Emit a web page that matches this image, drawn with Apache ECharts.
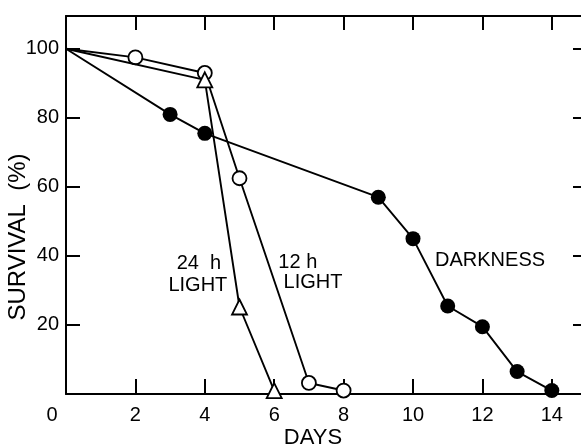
<!DOCTYPE html>
<html>
<head>
<meta charset="utf-8">
<script src="https://cdn.jsdelivr.net/npm/echarts@6/dist/echarts.min.js"></script>
<style>
html,body{margin:0;padding:0;background:#fff;}
#chart{width:581px;height:448px;}
</style>
</head>
<body>
<div id="chart"></div>
<script>
// ---- data ----
const darkDays = [0, 3, 4, 9, 10, 11, 12, 13, 14];
const darkSurv = [100, 81, 75.5, 57, 45, 25.5, 19.5, 6.5, 1];
const light12Days = [0, 2, 4, 5, 7, 8];
const light12Surv = [100, 97.5, 93, 62.5, 3.2, 1];
const light24Days = [0, 4, 5, 6];
const light24Surv = [100, 91, 25.2, 1];
const xTickValues = [0, 2, 4, 6, 8, 10, 12, 14];
const yTickValues = [20, 40, 60, 80, 100];

// the common starting point (day 0, 100 %) is drawn without a marker
const pair = (xs, ys) => xs.map((x, i) => (i === 0 ? {value: [x, ys[i]], symbol: 'none'} : [x, ys[i]]));
const FONT = 'Liberation Sans';
const BLACK = '#000';

const chart = echarts.init(document.getElementById('chart'), null, {renderer: 'canvas'});

const annot = (coord, text) => ({
  coord: coord, value: text, symbol: 'circle', symbolSize: 0,
  label: {show: true, formatter: text, color: BLACK, fontFamily: FONT, fontSize: 20,
          position: 'inside', align: 'center', verticalAlign: 'middle'}
});

const option = {
  animation: false,
  backgroundColor: '#fff',
  grid: {left: 66, right: -1, top: 16, bottom: 54, containLabel: false, outerBoundsMode: 'none'},
  xAxis: [
    {
      type: 'value', position: 'bottom', min: 0, max: 14.87, interval: 2,
      name: 'DAYS', nameLocation: 'middle', nameGap: 33, nameMoveOverlap: false,
      nameTextStyle: {color: BLACK, fontFamily: FONT, fontSize: 22, padding: [0, 22, 0, 0]},
      axisLine: {show: true, onZero: false, lineStyle: {color: BLACK, width: 2}},
      axisTick: {show: true, inside: true, length: 15, lineStyle: {color: BLACK, width: 2}},
      axisLabel: {
        color: BLACK, fontFamily: FONT, fontSize: 20, margin: 11,
        formatter: v => (xTickValues.indexOf(v) < 0 ? '' : (v === 0 ? '{z|0}' : String(v))),
        rich: {z: {color: BLACK, fontFamily: FONT, fontSize: 20, padding: [0, 28, 0, 0]}}
      },
      splitLine: {show: false}
    },
    {
      type: 'value', position: 'top', min: 0, max: 14.87, interval: 2,
      axisLine: {show: true, onZero: false, lineStyle: {color: BLACK, width: 2}},
      axisTick: {show: true, inside: true, length: 14, lineStyle: {color: BLACK, width: 2}},
      axisLabel: {show: false},
      splitLine: {show: false}
    }
  ],
  yAxis: [
    {
      type: 'value', position: 'left', min: 0, max: 109.5, interval: 20,
      name: 'SURVIVAL  (%)', nameLocation: 'middle', nameGap: 36, nameRotate: 90, nameMoveOverlap: false,
      nameTextStyle: {color: BLACK, fontFamily: FONT, fontSize: 24, padding: [0, 64, 0, 0]},
      axisLine: {show: true, onZero: false, lineStyle: {color: BLACK, width: 2}},
      axisTick: {show: true, inside: true, length: 14, lineStyle: {color: BLACK, width: 2}},
      axisLabel: {
        color: BLACK, fontFamily: FONT, fontSize: 20, margin: 7,
        formatter: v => (yTickValues.indexOf(v) < 0 ? '' : String(v))
      },
      splitLine: {show: false}
    },
    {
      type: 'value', position: 'right', min: 0, max: 109.5, interval: 20,
      axisLine: {show: true, onZero: false, lineStyle: {color: BLACK, width: 2}},
      axisTick: {show: true, inside: true, length: 9, lineStyle: {color: BLACK, width: 2}},
      axisLabel: {show: false},
      splitLine: {show: false}
    }
  ],
  series: [
    {
      name: 'DARKNESS', type: 'line', xAxisIndex: 0, yAxisIndex: 0,
      data: pair(darkDays, darkSurv),
      symbol: 'circle', symbolSize: 15, showAllSymbol: true,
      lineStyle: {color: BLACK, width: 1.9},
      itemStyle: {color: BLACK, borderColor: BLACK, borderWidth: 0},
      z: 3,
      markPoint: {silent: true, data: [annot([12.22, 38.8], 'DARKNESS')]}
    },
    {
      name: '12 h LIGHT', type: 'line', xAxisIndex: 0, yAxisIndex: 0,
      data: pair(light12Days, light12Surv),
      symbol: 'circle', symbolSize: 14, showAllSymbol: true,
      lineStyle: {color: BLACK, width: 1.9},
      itemStyle: {color: '#fff', borderColor: BLACK, borderWidth: 1.8},
      z: 4,
      markPoint: {silent: true, data: [annot([6.68, 38.0], '12 h'), annot([7.12, 32.2], 'LIGHT')]}
    },
    {
      name: '24 h LIGHT', type: 'line', xAxisIndex: 0, yAxisIndex: 0,
      data: pair(light24Days, light24Surv),
      symbol: 'triangle', symbolSize: 15, showAllSymbol: true,
      lineStyle: {color: BLACK, width: 1.9},
      itemStyle: {color: '#fff', borderColor: BLACK, borderWidth: 1.8},
      z: 5,
      markPoint: {silent: true, data: [annot([3.83, 37.7], '24  h'), annot([3.80, 31.3], 'LIGHT')]}
    }
  ]
};
chart.setOption(option);
</script>
</body>
</html>
